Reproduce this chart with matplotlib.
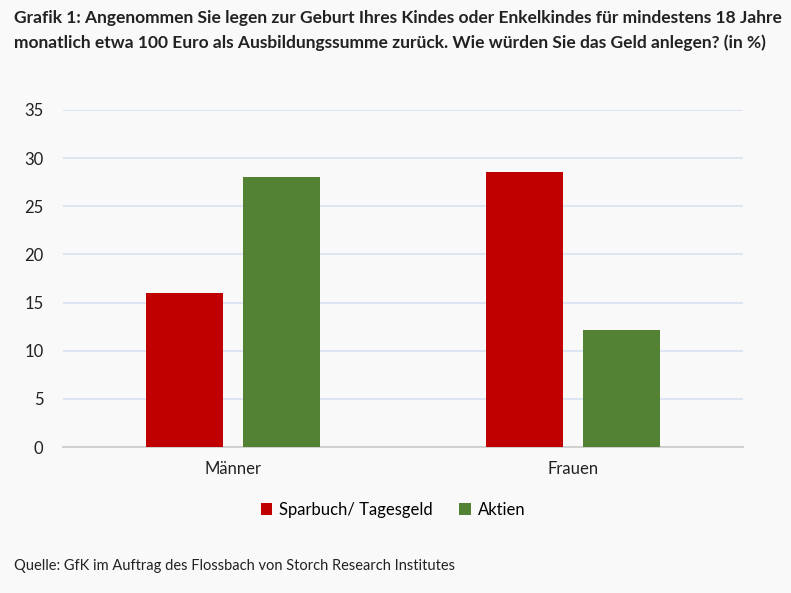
import numpy as np
import matplotlib.pyplot as plt

plt.rcParams['font.family'] = ['Lato', 'DejaVu Sans']

# data
categories = ['Männer', 'Frauen']
series_names = ['Sparbuch/ Tagesgeld', 'Aktien']
sparbuch = [16.0, 28.6]
aktien = [28.0, 12.1]
colors = ['#C00000', '#548235']

title = ('Grafik 1: Angenommen Sie legen zur Geburt Ihres Kindes oder Enkelkindes für mindestens 18 Jahre\n'
         'monatlich etwa 100 Euro als Ausbildungssumme zurück. Wie würden Sie das Geld anlegen? (in %)')
source = 'Quelle: GfK im Auftrag des Flossbach von Storch Research Institutes'

bg = '#F9F9F9'
fig = plt.figure(figsize=(7.91, 5.93), dpi=100, facecolor=bg)
ax = fig.add_axes([63 / 791, 1 - 447 / 593, 680 / 791, 337 / 593], facecolor=bg)

x = np.arange(len(categories))
w = 0.226
off = 0.143
ax.bar(x - off, sparbuch, w, color=colors[0], label=series_names[0], zorder=3)
ax.bar(x + off, aktien, w, color=colors[1], label=series_names[1], zorder=3)

ax.set_xlim(-0.5, 1.5)
ax.set_ylim(0, 35)
ax.set_yticks(np.arange(0, 36, 5))
ax.yaxis.grid(True, color='#DAE3F3', linewidth=1.3, zorder=0)
for s in ['top', 'right', 'left']:
    ax.spines[s].set_visible(False)
ax.spines['bottom'].set_color('#D0D0D0')
ax.spines['bottom'].set_linewidth(1.5)
ax.tick_params(axis='both', length=0, labelsize=12, colors='#222222')
ax.tick_params(axis='y', pad=14)
ax.tick_params(axis='x', pad=10)
ax.set_xticks(x)
ax.set_xticklabels(categories)

ax.legend(loc='center', bbox_to_anchor=(393 / 791, 1 - 510 / 593), bbox_transform=fig.transFigure,
          ncol=2, frameon=False, fontsize=12, handlelength=0.7, handleheight=0.7,
          handletextpad=0.4, columnspacing=1.6)

fig.text(14 / 791, 1 - 10 / 593, title, ha='left', va='top', fontsize=12.5,
         fontweight='bold', linespacing=1.65, color='#222222')
fig.text(14 / 791, 1 - 566 / 593, source, ha='left', va='center', fontsize=10.5, color='#222222')

fig.savefig('out.png', dpi=100, facecolor=bg)
